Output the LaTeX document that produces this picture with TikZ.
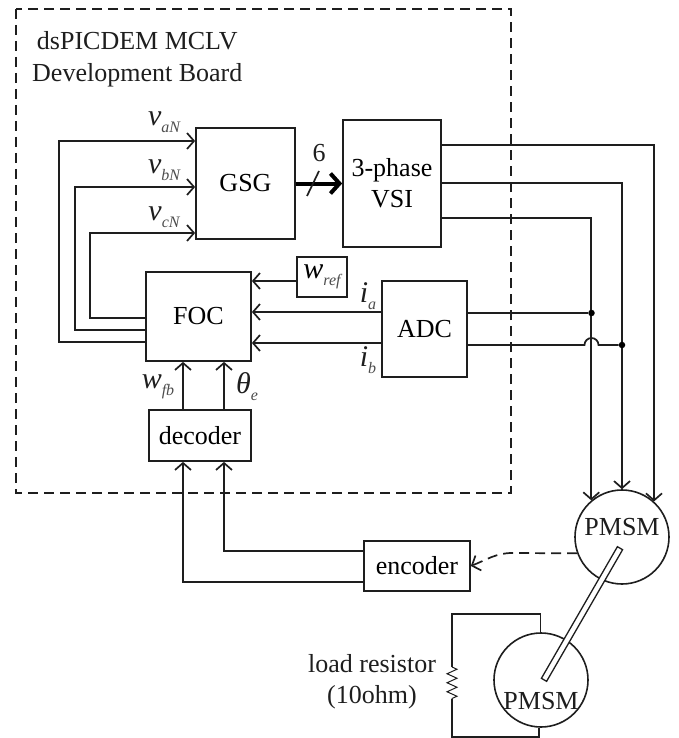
\documentclass[tikz,border=0pt]{standalone}
\usepackage{fontspec}
\setmainfont{Liberation Serif}
\usepackage{xcolor}
\usetikzlibrary{arrows.meta,decorations.pathmorphing}

\definecolor{inkline}{HTML}{1E1E1E}
\newcommand{\sublabel}[2]{{\itshape\fontsize{30}{30}\selectfont #1}\raisebox{-7pt}{\itshape\color{black!70}\fontsize{16}{16}\selectfont #2}}

\tikzset{
  block/.style={draw=inkline, line width=1.7pt, fill=white, inner sep=0pt, font=\fontsize{26}{31}\selectfont},
  motor/.style={circle, draw=inkline, line width=1.6pt, inner sep=0pt, minimum size=94pt},
  motortext/.style={inner sep=0pt, text=inkline, font=\fontsize{26}{31}\selectfont},
  wire/.style={draw=inkline, line width=1.7pt},
  arrowwire/.style={wire, -{Straight Barb[length=7pt,width=16pt,line width=1.7pt]}},
  tapdot/.style={circle, fill=black, inner sep=0pt, minimum size=6.5pt},
  txt/.style={inner sep=0pt, text=inkline}
}

\begin{document}
\begin{tikzpicture}[x=1pt, y=-1pt]
  \useasboundingbox (0,0) rectangle (678,738);

  % Board outline
  \draw[draw=inkline, line width=1.5pt, dash pattern=on 10pt off 6pt] (16,9) rectangle (511,493);
  \node[txt, align=center, anchor=north west, font=\fontsize{26}{32}\selectfont] (boardname) at (32,31) {dsPICDEM MCLV\\Development Board};

  % Blocks
  \node[block, minimum width=99pt, minimum height=111pt] (gsg) at (245.5,183.5) {GSG};
  \node[block, minimum width=98pt, minimum height=127pt, align=center] (vsi) at (392,183.5) {3-phase\\VSI};
  \node[block, minimum width=105pt, minimum height=89pt] (foc) at (198.5,316.5) {FOC};
  \node[block, minimum width=50pt, minimum height=40pt] (wref) at (322,277) {\sublabel{w}{ref}};
  \node[block, minimum width=85pt, minimum height=96pt] (adc) at (424.5,329) {ADC};
  \node[block, minimum width=102pt, minimum height=51pt] (decoder) at (200,435.5) {decoder};
  \node[block, minimum width=106pt, minimum height=50pt] (encoder) at (417,566) {encoder};

  % Motors
  \node[motor] (pmsmA) at (622,537) {};
  \node[motor] (pmsmB) at (541,680) {};
  \node[motortext] (pmsmAname) at (622,527) {PMSM};
  \node[motortext] (pmsmBname) at (541,701) {PMSM};
  \node[draw=inkline, line width=1.3pt, fill=white, minimum width=152pt, minimum height=6pt, inner sep=0pt, rotate=60] (shaft) at (582,614) {};

  % FOC outputs to GSG
  \draw[arrowwire] (foc.west |- 0,342) -- (59,342) |- (gsg.west |- 0,141);
  \draw[arrowwire] (foc.west |- 0,330) -- (75,330) |- (gsg.west |- 0,187);
  \draw[arrowwire] (foc.west |- 0,318) -- (90,318) |- (gsg.west |- 0,233);
  \node[txt] (vaN) at (164,122) {\sublabel{v}{aN}};
  \node[txt] (vbN) at (164,170) {\sublabel{v}{bN}};
  \node[txt] (vcN) at (164,217) {\sublabel{v}{cN}};

  % Gate bus
  \draw[draw=black, line width=4pt, -{Straight Barb[length=9pt,width=20pt,line width=4pt]}] (gsg.east) -- (vsi.west);
  \coordinate (slashA) at (307,196);
  \coordinate (slashB) at (319,171);
  \draw[wire] (slashA) -- (slashB);
  \node[txt, font=\fontsize{26}{31}\selectfont] (busnum) at (319,153) {6};

  % Inputs of FOC
  \draw[arrowwire] (wref.west |- 0,281) -- (foc.east |- 0,281);
  \draw[arrowwire] (adc.west |- 0,312) -- (foc.east |- 0,312);
  \draw[arrowwire] (adc.west |- 0,343) -- (foc.east |- 0,343);
  \draw[arrowwire] (decoder.north -| 183,0) -- (foc.south -| 183,0);
  \draw[arrowwire] (decoder.north -| 224,0) -- (foc.south -| 224,0);
  \node[txt] (ia) at (368,296) {\sublabel{i}{a}};
  \node[txt] (ib) at (368,360) {\sublabel{i}{b}};
  \node[txt] (wfb) at (158,387) {\sublabel{w}{fb}};
  \node[txt] (thetae) at (247,387) {\sublabel{θ}{e}};

  % Encoder to decoder
  \draw[arrowwire] (encoder.west |- 0,551) -| (decoder.south -| 224,0);
  \draw[arrowwire] (encoder.west |- 0,582) -| (decoder.south -| 183,0);

  % VSI phases to motor
  \draw[arrowwire] (vsi.east |- 0,145) -| (pmsmA.48.5);
  \draw[arrowwire] (vsi.east |- 0,183) -| (pmsmA.90);
  \draw[arrowwire] (vsi.east |- 0,218) -| (pmsmA.130.5);

  % ADC sense lines
  \node[tapdot] (tapA) at (591.5,313) {};
  \node[tapdot] (tapB) at (622,345) {};
  \draw[wire] (adc.east |- tapA) -- (tapA);
  \draw[wire] (adc.east |- tapB) -- (584.5,345) arc[start angle=180, end angle=0, radius=7pt] -- (tapB);

  % Encoder pick-up
  \draw[wire, dash pattern=on 10pt off 6pt, -{Straight Barb[length=7pt,width=16pt,line width=1.7pt]}] (pmsmA.200) -- (512,553) .. controls (496,553) and (486,560) .. (encoder.east);

  % Load
  \node[txt, align=center, font=\fontsize{26}{31}\selectfont] (loadname) at (372,682) {load resistor\\(10ohm)};
  \coordinate (resTop) at (452,667);
  \coordinate (resBot) at (452,699);
  \draw[wire, line width=1.3pt] (pmsmB.91) -- (pmsmB.91 |- 0,614) -| (resTop);
  \draw[draw=inkline, line width=1pt, decorate, decoration={zigzag, amplitude=5pt, segment length=9pt}] (resTop) -- (resBot);
  \draw[wire, line width=1.3pt] (resBot) |- (539,737) -- (pmsmB.south -| 539,0);
\end{tikzpicture}
\end{document}
